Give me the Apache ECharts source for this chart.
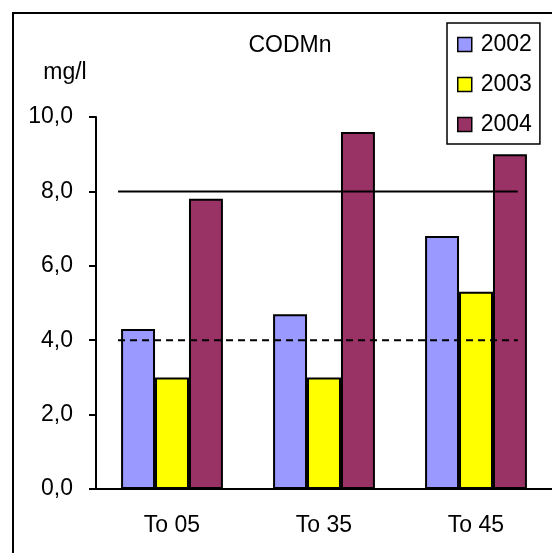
<!DOCTYPE html>
<html><head><meta charset="utf-8">
<script src="https://cdn.jsdelivr.net/npm/echarts@6/dist/echarts.min.js"></script>
<style>html,body{margin:0;padding:0;background:#fff}#c{width:552px;height:553px}</style>
</head><body><div id="c"></div>
<script>
const categories = ['To 05', 'To 35', 'To 45'];
const years = ['2002', '2003', '2004'];
const values2002 = [4.3, 4.7, 6.8];
const values2003 = [3.0, 3.0, 5.3];
const values2004 = [7.8, 9.6, 9.0];
const yMin = 0, yMax = 10, yStep = 2;
const limitHigh = 8.0;   // solid line
const limitLow = 4.0;    // dashed line
const limitSpan = [0.145, 2.775]; // extent of limit lines, in category units
const titleText = 'CODMn';
const unitText = 'mg/l';

const FONT = "'Liberation Sans', Arial, sans-serif";
const colors = ['#9999FF', '#FFFF00', '#993366'];
const seriesValues = [values2002, values2003, values2004];

const chart = echarts.init(document.getElementById('c'), null, {renderer: 'canvas'});
const barSeries = years.map((y, i) => ({
  name: y, type: 'bar', data: seriesValues[i],
  barGap: '0%', barCategoryGap: '33%',
  itemStyle: {color: colors[i], borderColor: '#000', borderWidth: 2},
  emphasis: {disabled: true}, animation: false
}));
function limitLine(v, type) {
  return {
    type: 'line', xAxisIndex: 1, yAxisIndex: 0, silent: true, symbol: 'none',
    data: [[limitSpan[0], v], [limitSpan[1], v]],
    lineStyle: {color: '#000', width: 2, type: type, dashOffset: 0},
    animation: false, z: 5
  };
}
const option = {
  animation: false,
  backgroundColor: '#fff',
  textStyle: {fontFamily: FONT},
  grid: {left: 96, right: 0, top: 117, bottom: 64, containLabel: false},
  legend: {
    data: years, orient: 'vertical', left: 447, top: 23,
    padding: [10, 8, 8, 10], itemGap: 17, itemWidth: 14, itemHeight: 14,
    borderColor: '#000', borderWidth: 1.5, icon: 'rect',
    itemStyle: {borderColor: '#000', borderWidth: 1.5},
    textStyle: {fontFamily: FONT, fontSize: 23, color: '#000', padding: [0, 0, 0, 4]},
    selectedMode: false
  },
  xAxis: [{
    type: 'category', data: categories,
    axisLine: {lineStyle: {color: '#000', width: 2}},
    axisTick: {show: false},
    axisLabel: {fontFamily: FONT, fontSize: 23, color: '#000', margin: 25},
    splitLine: {show: false}
  }, {
    type: 'value', min: 0, max: categories.length, show: false
  }],
  yAxis: {
    type: 'value', min: yMin, max: yMax, interval: yStep,
    axisLine: {show: true, lineStyle: {color: '#000', width: 2}},
    axisTick: {show: true, length: 7, lineStyle: {color: '#000', width: 2}},
    axisLabel: {fontFamily: FONT, fontSize: 23, color: '#000', margin: 23,
      formatter: v => v.toFixed(1).replace('.', ',')},
    splitLine: {show: false}
  },
  series: barSeries.concat([limitLine(limitHigh, 'solid'), limitLine(limitLow, [7, 5])]),
  graphic: [
    {type: 'rect', shape: {x: 13, y: 13, width: 600, height: 600}, style: {fill: 'none', stroke: '#000', lineWidth: 2}, silent: true, z: -1},
    {type: 'text', x: 290, y: 46, style: {text: titleText, fontFamily: FONT, fontSize: 23, fill: '#000', textAlign: 'center', textVerticalAlign: 'middle'}},
    {type: 'text', x: 65, y: 73, style: {text: unitText, fontFamily: FONT, fontSize: 23, fill: '#000', textAlign: 'center', textVerticalAlign: 'middle'}}
  ]
};
chart.setOption(option);
</script></body></html>
